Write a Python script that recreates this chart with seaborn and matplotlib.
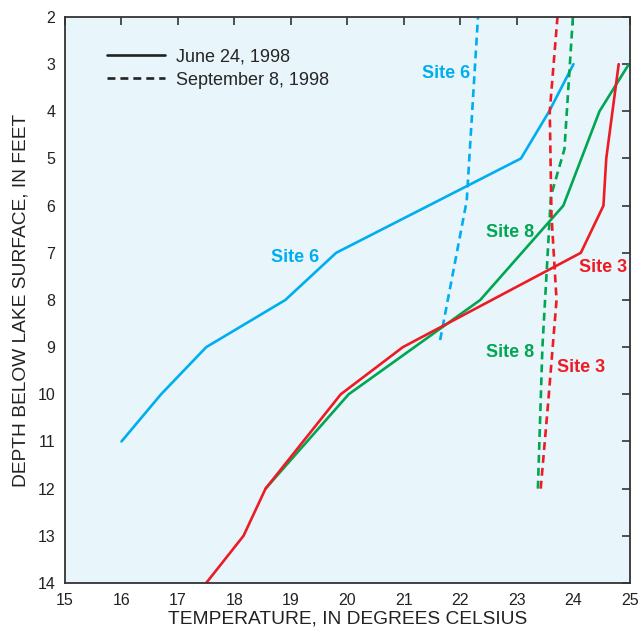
import pandas as pd
import matplotlib.pyplot as plt
import seaborn as sns
from matplotlib.lines import Line2D

# Profili di temperatura (temperatura in gradi C, profondita in piedi)
site6_jun_temp = [16.0, 16.7, 17.5, 18.9, 19.8, 23.07, 23.57, 24.0]
site6_jun_depth = [11, 10, 9, 8, 7, 5, 4, 3]
site6_sep_temp = [21.64, 22.11, 22.32]
site6_sep_depth = [8.85, 5.9, 1.8]

site8_jun_temp = [18.55, 20.02, 22.35, 23.82, 24.46, 24.98]
site8_jun_depth = [12, 10, 8, 6, 4, 3]
site8_sep_temp = [23.37, 23.45, 23.53, 23.6, 23.84, 24.0]
site8_sep_depth = [12, 9, 7.3, 5.8, 4.8, 1.8]

site3_jun_temp = [17.5, 18.16, 18.55, 19.88, 20.98, 24.13, 24.53, 24.58, 24.8]
site3_jun_depth = [14, 13, 12, 10, 9, 7, 6, 5, 3]
site3_sep_temp = [23.42, 23.55, 23.7, 23.61, 23.58, 23.73]
site3_sep_depth = [12, 10.2, 8, 6.2, 4, 1.8]

series = [
    ("Site 6", "June 24, 1998", site6_jun_temp, site6_jun_depth),
    ("Site 6", "September 8, 1998", site6_sep_temp, site6_sep_depth),
    ("Site 8", "June 24, 1998", site8_jun_temp, site8_jun_depth),
    ("Site 8", "September 8, 1998", site8_sep_temp, site8_sep_depth),
    ("Site 3", "June 24, 1998", site3_jun_temp, site3_jun_depth),
    ("Site 3", "September 8, 1998", site3_sep_temp, site3_sep_depth),
]

rows = []
for site, date, temps, depths in series:
    for t, d in zip(temps, depths):
        rows.append({"site": site, "date": date, "temp": t, "depth": d})
df = pd.DataFrame(rows)

colors = {"Site 6": "#00AEEF", "Site 8": "#00A651", "Site 3": "#ED1C24"}
dash_pat = (3.0, 1.9)
dashes = {"June 24, 1998": "", "September 8, 1998": dash_pat}

sns.set_theme(style="white")
plt.rcParams['font.family'] = ['Liberation Sans', 'DejaVu Sans']

fig = plt.figure(figsize=(6.42, 6.31), dpi=100)
ax = fig.add_axes([0.1012, 0.0761, 0.8801, 0.897])
ax.set_facecolor("#E8F5FB")

sns.lineplot(data=df, x="temp", y="depth", hue="site", style="date",
             palette=colors, dashes=dashes, sort=False, estimator=None,
             linewidth=1.9, legend=False, ax=ax)

ax.set_xlim(15, 25)
ax.set_ylim(14, 2)
ax.set_xticks(range(15, 26))
ax.set_yticks(range(2, 15))
ax.tick_params(axis="both", which="both", direction="in", length=6, width=1.2,
               color="#333333", labelsize=11.5, labelcolor="#222222",
               top=True, right=True, pad=7)
for s in ax.spines.values():
    s.set_color("#333333")
    s.set_linewidth(1.3)

ax.set_xlabel("TEMPERATURE, IN DEGREES CELSIUS", fontsize=13.8, color="#222222", labelpad=2)
ax.set_ylabel("DEPTH BELOW LAKE SURFACE, IN FEET", fontsize=13.8, color="#222222", labelpad=6)

# Etichette dei siti
lab = dict(fontsize=13, fontweight="bold", ha="center", va="center")
ax.text(19.07, 7.1, "Site 6", color=colors["Site 6"], **lab)
ax.text(21.74, 3.19, "Site 6", color=colors["Site 6"], **lab)
ax.text(22.88, 6.58, "Site 8", color=colors["Site 8"], **lab)
ax.text(22.88, 9.12, "Site 8", color=colors["Site 8"], **lab)
ax.text(24.52, 7.32, "Site 3", color=colors["Site 3"], **lab)
ax.text(24.13, 9.44, "Site 3", color=colors["Site 3"], **lab)

handles = [
    Line2D([], [], color="#222222", lw=1.9),
    Line2D([], [], color="#222222", lw=1.9, dashes=dash_pat),
]
ax.legend(handles, ["June 24, 1998", "September 8, 1998"], loc="upper left",
          bbox_to_anchor=(0.0743, 0.945), frameon=False, fontsize=13,
          borderpad=0, borderaxespad=0,
          handlelength=3.2, handletextpad=0.65, labelspacing=0.36)

fig.savefig("out.png", dpi=100)
